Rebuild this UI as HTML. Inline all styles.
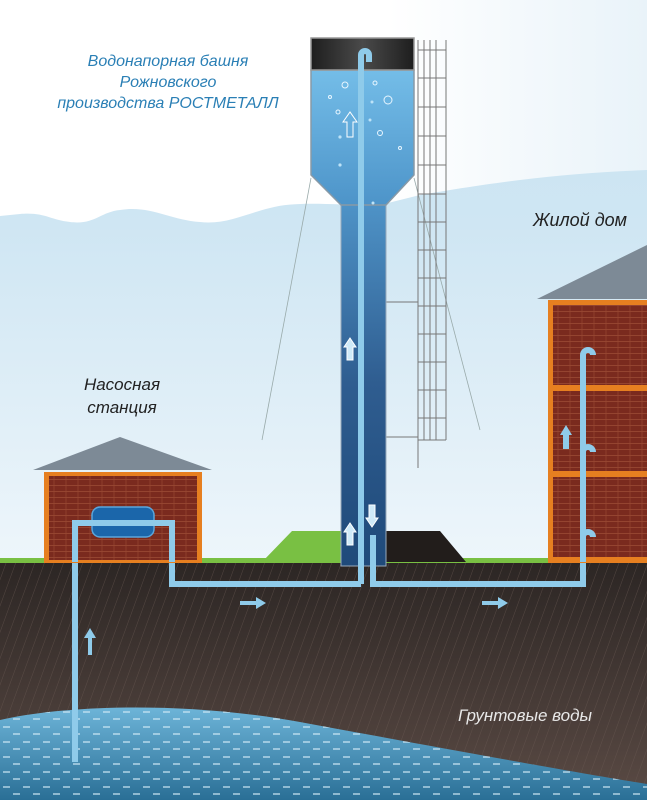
<!DOCTYPE html>
<html><head><meta charset="utf-8"><style>
html,body{margin:0;padding:0;background:#fff}
svg{display:block}
text{font-family:"Liberation Sans",sans-serif;font-style:italic}
</style></head><body>
<svg width="647" height="800" viewBox="0 0 647 800" xmlns="http://www.w3.org/2000/svg">
<defs>
<linearGradient id="sky" x1="0" y1="0" x2="0" y2="1">
<stop offset="0" stop-color="#c6e2f1"/><stop offset="0.4" stop-color="#cfe6f3"/><stop offset="1" stop-color="#eef6fb"/></linearGradient>
<linearGradient id="cloudH" x1="0" y1="0" x2="1" y2="0">
<stop offset="0" stop-color="#ffffff"/><stop offset="0.6" stop-color="#ffffff"/><stop offset="1" stop-color="#e9f3f9"/></linearGradient>
<linearGradient id="ground" x1="0" y1="0" x2="0" y2="1">
<stop offset="0" stop-color="#2c2624"/><stop offset="1" stop-color="#5a4a44"/></linearGradient>
<pattern id="hatch" width="9" height="9" patternUnits="userSpaceOnUse" patternTransform="rotate(20)">
<line x1="0" y1="0" x2="0" y2="9" stroke="#6a5a52" stroke-width="1" opacity="0.6"/></pattern>
<linearGradient id="water" x1="0" y1="0" x2="0" y2="1">
<stop offset="0" stop-color="#6db4d8"/><stop offset="1" stop-color="#2a6f96"/></linearGradient>
<pattern id="dash" width="20" height="15" patternUnits="userSpaceOnUse">
<line x1="3" y1="7" x2="10" y2="7" stroke="#cfe8f5" stroke-width="1.2"/><line x1="13" y1="14" x2="20" y2="14" stroke="#cfe8f5" stroke-width="1.2"/></pattern>
<linearGradient id="col" x1="0" y1="0" x2="0" y2="1">
<stop offset="0" stop-color="#4f94c8"/><stop offset="0.5" stop-color="#2f5d90"/><stop offset="1" stop-color="#1f4a7a"/></linearGradient>
<linearGradient id="tank" x1="0" y1="0" x2="0" y2="1">
<stop offset="0" stop-color="#74bde8"/><stop offset="1" stop-color="#4d94c9"/></linearGradient>
<linearGradient id="top" x1="0" y1="0" x2="1" y2="0">
<stop offset="0" stop-color="#1e1e1e"/><stop offset="0.5" stop-color="#4a4a4a"/><stop offset="1" stop-color="#1e1e1e"/></linearGradient>
<pattern id="brick" width="12" height="6" patternUnits="userSpaceOnUse">
<rect width="12" height="6" fill="#7a2a1e"/><line x1="0" y1="5.5" x2="12" y2="5.5" stroke="#9a4a34" stroke-width="0.8"/><line x1="6" y1="0" x2="6" y2="5.5" stroke="#9a4a34" stroke-width="0.6"/></pattern>
</defs>
<rect width="647" height="565" fill="url(#sky)"/>
<!-- cloud mass -->
<path d="M0 0 H647 V170 C600 172 560 175 520 180 C480 185 450 190 420 195 L380 205 C340 206 300 200 270 208 C245 214 225 225 200 222 C170 220 150 205 120 210 C100 212 95 225 70 222 C50 220 45 212 20 214 L0 216Z" fill="url(#cloudH)"/>
<!-- ground -->
<rect y="562" width="647" height="238" fill="url(#ground)"/>
<rect y="562" width="647" height="238" fill="url(#hatch)"/>
<path d="M0 720 C60 706 180 700 300 722 S560 770 647 784 L647 800 L0 800Z" fill="url(#water)"/>
<path d="M0 720 C60 706 180 700 300 722 S560 770 647 784 L647 800 L0 800Z" fill="url(#dash)"/>
<rect y="558" width="647" height="5" fill="#79c043"/>
<!-- mounds -->
<polygon points="262,562 292,531 342,531 342,562" fill="#79c043"/>
<polygon points="384,531 440,531 466,562 384,562" fill="#221d1b"/>
<!-- guy wires -->
<line x1="311" y1="178" x2="262" y2="440" stroke="#9aa" stroke-width="0.8"/>
<line x1="414" y1="178" x2="480" y2="430" stroke="#9aa" stroke-width="0.8"/>
<!-- ladder -->
<g stroke="#777" stroke-width="1" fill="none">
<line x1="418" y1="40" x2="418" y2="468"/><line x1="424" y1="40" x2="424" y2="440"/><line x1="430" y1="40" x2="430" y2="440"/><line x1="436" y1="40" x2="436" y2="440"/><line x1="446" y1="40" x2="446" y2="440"/>
<path d="M418 50H446M418 78H446M418 107H446M418 136H446M418 165H446M418 194H446M418 222H446M418 250H446M418 278H446M418 306H446M418 334H446M418 362H446M418 390H446M418 418H446M418 440H446"/>
<line x1="386" y1="302" x2="418" y2="302"/><line x1="386" y1="437" x2="418" y2="437"/>
</g>
<!-- tower -->
<rect x="341" y="200" width="45" height="366" fill="url(#col)" stroke="#9ab" stroke-width="1"/>
<path d="M311 70 H414 V175 L386 205 H341 L311 175Z" fill="url(#tank)" stroke="#8899a6" stroke-width="1.5"/>
<rect x="311" y="38" width="103" height="32" fill="url(#top)" stroke="#999" stroke-width="1.5"/>
<g fill="none" stroke="#e8f6ff" stroke-width="1">
<circle cx="345" cy="85" r="3"/><circle cx="375" cy="83" r="2"/><circle cx="388" cy="100" r="4"/><circle cx="338" cy="112" r="2"/><circle cx="380" cy="133" r="2.5"/><circle cx="400" cy="148" r="1.5"/><circle cx="330" cy="97" r="1.5"/>
</g>
<g fill="#bde3f8"><circle cx="340" cy="137" r="1.6"/><circle cx="340" cy="165" r="1.6"/><circle cx="370" cy="120" r="1.5"/><circle cx="372" cy="102" r="1.5"/><circle cx="373" cy="203" r="1.5"/></g>
<!-- pipes -->
<g fill="none" stroke="#8fcbea" stroke-width="6" stroke-linejoin="miter">
<path d="M361 584 V55 a4 4 0 0 1 8 0 V62"/>
<path d="M75 762 V523 H172 V584 H361"/>
<path d="M373 535 V584 H583 V355 a5 5 0 0 1 10 0"/>
</g>
<!-- pump house -->
<polygon points="33,470 120,437 212,470" fill="#7d8a96"/>
<rect x="44" y="472" width="158" height="91" fill="#e67f20"/>
<rect x="49" y="476" width="148" height="84" fill="url(#brick)"/>
<rect x="92" y="507" width="62" height="30" rx="8" fill="#1b66aa" stroke="#5aa6dc" stroke-width="1.5"/>
<path d="M75 562 V523 H172 V562" fill="none" stroke="#8fcbea" stroke-width="6"/>
<line x1="112" y1="523" x2="135" y2="523" stroke="#8fcbea" stroke-width="6" stroke-dasharray="9,5"/>
<!-- house -->
<polygon points="537,299 647,245 647,299" fill="#7d8a96"/>
<rect x="548" y="300" width="99" height="263" fill="#e67f20"/>
<rect x="553" y="305" width="94" height="80" fill="url(#brick)"/>
<rect x="553" y="391" width="94" height="80" fill="url(#brick)"/>
<rect x="553" y="477" width="94" height="80" fill="url(#brick)"/>
<g fill="none" stroke="#8fcbea" stroke-width="6">
<path d="M583 562 V355 a5 5 0 0 1 10 0"/><path d="M583 452 a5 5 0 0 1 10 0"/><path d="M583 537 a5 5 0 0 1 10 0"/></g>
<!-- arrows -->
<g fill="#8fcbea">
<path d="M240 601 H256 V597 L266 603 L256 609 V605 H240Z"/>
<path d="M482 601 H498 V597 L508 603 L498 609 V605 H482Z"/>
<path d="M88 655 V638 H84 L90 628 L96 638 H92 V655Z"/>
<path d="M563 449 V435 H560 L566 425 L572 435 H569 V449Z"/>
</g>
<g fill="#cfeaf8" stroke="#ffffff" stroke-width="1">
<path d="M347 137 V122 H343 L350 112 L357 122 H353 V137Z" fill="none"/>
<path d="M347 360 V347 H344 L350 338 L356 347 H353 V360Z"/>
<path d="M347 545 V532 H344 L350 523 L356 532 H353 V545Z"/>
<path d="M369 505 V518 H366 L372 527 L378 518 H375 V505Z"/>
</g>
<!-- text -->
<g fill="#2a7fb5" font-size="16" text-anchor="middle">
<text x="168" y="66">Водонапорная башня</text>
<text x="168" y="87">Рожновского</text>
<text x="168" y="108">производства РОСТМЕТАЛЛ</text>
</g>
<text x="580" y="226" font-size="18" fill="#222" text-anchor="middle">Жилой дом</text>
<text x="122" y="390" font-size="17" fill="#222" text-anchor="middle">Насосная</text>
<text x="122" y="413" font-size="17" fill="#222" text-anchor="middle">станция</text>
<text x="525" y="721" font-size="17" fill="#e8e8e8" text-anchor="middle">Грунтовые воды</text>
</svg>
</body></html>
